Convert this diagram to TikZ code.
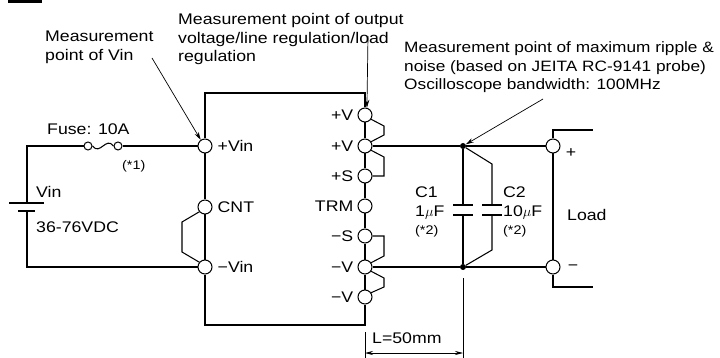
\documentclass[tikz,border=0pt]{standalone}
\usepackage{fontspec}
\setmainfont{Liberation Sans}[FakeStretch=1.15]
\usetikzlibrary{arrows.meta}

\tikzset{
  term/.style={circle,draw,fill=white,line width=1pt,inner sep=0pt,minimum size=14pt},
  fterm/.style={circle,draw,line width=1pt,inner sep=0pt,minimum size=8pt},
  jdot/.style={circle,fill,inner sep=0pt,minimum size=6pt},
  txt/.style={font=\fontsize{15.4}{18.5}\selectfont,inner sep=0pt},
  note/.style={txt,align=left,anchor=base west},
  small/.style={font=\fontsize{12.5}{13}\selectfont,inner sep=0pt},
  wire/.style={line width=1.05pt},
  callout/.style={-{Stealth[length=8pt,width=4.5pt]},line width=0.7pt}
}

\begin{document}
\begin{tikzpicture}[x=1pt,y=-1pt]
  \useasboundingbox (0,0) rectangle (720,358);
  \fill (8,0) rectangle (42,3);

  % module box terminals
  \node[term] (vinp) at (205,146) {};
  \node[term] (cnt) at (205,207) {};
  \node[term] (vinn) at (205,267) {};
  \node[term] (vo1) at (365,115) {};
  \node[term] (vo2) at (365,146) {};
  \node[term] (sp) at (365,176) {};
  \node[term] (trm) at (365,206) {};
  \node[term] (sn) at (365,236) {};
  \node[term] (von1) at (365,267) {};
  \node[term] (von2) at (365,297) {};
  \coordinate (boxtl) at (205,93);
  \coordinate (boxtr) at (365,93);
  \coordinate (boxbl) at (205,325);
  \coordinate (boxbr) at (365,325);

  \draw[wire] (vo1) -- (boxtr) -- (boxtl) -- (vinp) -- (cnt) -- (vinn) -- (boxbl) -- (boxbr) -- (von2);
  \draw[wire] (vo1) -- (vo2) -- (sp) -- (trm) -- (sn) -- (von1) -- (von2);

  % sense and CNT links
  \draw[wire] (vo1.-35) -- (384,126) -- (384,135) -- (vo2.35);
  \draw[wire] (vo2.-35) -- (384,157) -- (384,176) -- (sp.east);
  \draw[wire] (sn.east) -- (384,236) -- (384,256) -- (von1.35);
  \draw[wire] (von1.-35) -- (384,278) -- (384,287) -- (von2.35);
  \draw[wire] (cnt.-140) -- (182,222) -- (182,252) -- (vinn.140);

  \node[txt,anchor=west] at ([xshift=5pt]vinp.east) {+Vin};
  \node[txt,anchor=west] at ([xshift=5pt]cnt.east) {CNT};
  \node[txt,anchor=west] at ([xshift=5pt]vinn.east) {−Vin};
  \node[txt,anchor=east] at ([xshift=-4pt]vo1.west) {+V};
  \node[txt,anchor=east] at ([xshift=-4pt]vo2.west) {+V};
  \node[txt,anchor=east] at ([xshift=-4pt]sp.west) {+S};
  \node[txt,anchor=east] at ([xshift=-4pt]trm.west) {TRM};
  \node[txt,anchor=east] at ([xshift=-4pt]sn.west) {−S};
  \node[txt,anchor=east] at ([xshift=-4pt]von1.west) {−V};
  \node[txt,anchor=east] at ([xshift=-4pt]von2.west) {−V};

  % input side
  \node[fterm] (fa) at (88,146) {};
  \node[fterm] (fb) at (118,146) {};
  \coordinate (bt) at (27,146);
  \coordinate (bb) at (27,267);
  \coordinate (batl) at (27,203);
  \coordinate (bats) at (27,211);
  \draw[wire] (vinp) -- (fb);
  \draw[wire] (fa.east) .. controls (100,156) and (106,136) .. (fb.west);
  \draw[wire] (fa) -- (bt) -- (batl);
  \draw[wire] ([xshift=-18pt]batl) -- ([xshift=17pt]batl);
  \draw[line width=2.6pt] ([xshift=-9pt]bats) -- ([xshift=8pt]bats);
  \draw[wire] (bats) -- (bb) -- (vinn);
  \node[txt,anchor=base west] at (47,135) {Fuse: 10A};
  \node[small,anchor=base west] at (122,170) {(*1)};
  \node[txt,anchor=base west] at (36,197) {Vin};
  \node[txt,anchor=base west] at (36,233) {36-76VDC};

  % output side
  \node[jdot] (jp) at (463,146) {};
  \node[jdot] (jn) at (463,267) {};
  \node[term] (ldp) at (553,146) {};
  \node[term] (ldn) at (553,267) {};
  \draw[wire] (vo2) -- (jp) -- (ldp);
  \draw[wire] (von1) -- (jn) -- (ldn);
  \coordinate (c1a) at (463,205);
  \coordinate (c1b) at (463,215);
  \coordinate (c2a) at (492,205);
  \coordinate (c2b) at (492,215);
  \draw[wire] (jp) -- (c1a) (c1b) -- (jn);
  \draw[wire] (jp) -- (492,164) -- (c2a) (c2b) -- (492,250) -- (jn);
  \foreach \c in {c1a,c1b,c2a,c2b}
    \draw[wire] ([xshift=-10pt]\c) -- ([xshift=10pt]\c);
  \node[txt,anchor=base west] at (415,197) {C1};
  \node[txt,anchor=base west] at (415,217) {1$\mu$F};
  \node[small,anchor=base west] at (415,235) {(*2)};
  \node[txt,anchor=base west] at (503,197) {C2};
  \node[txt,anchor=base west] at (503,217) {10$\mu$F};
  \node[small,anchor=base west] at (503,235) {(*2)};

  % load
  \draw[wire] (ldp) -- (553,130) -- (593,130);
  \draw[wire] (ldp) -- (ldn);
  \draw[wire] (ldn) -- (553,287) -- (593,287);
  \node[txt] at (571,153) {+};
  \node[txt] at (573,268) {−};
  \node[txt,anchor=west] at (567,215) {Load};

  % L=50mm
  \coordinate (dimL) at (365,353);
  \coordinate (dimR) at (463,353);
  \draw[line width=0.7pt] (365,332) -- (365,358);
  \draw[line width=0.7pt] (463,278) -- (463,358);
  \draw[line width=0.7pt,{Stealth[length=8pt,width=4pt]}-{Stealth[length=8pt,width=4pt]}] (dimL) -- (dimR);
  \node[txt,anchor=base west] at (372,343) {L=50mm};

  % measurement notes (base = last line)
  \node[note,font=\fontsize{15.4}{19.5}\selectfont] (notevin) at (45,61) {Measurement\\point of Vin};
  \node[note] (noteout) at (178,62) {Measurement point of output\\voltage/line regulation/load\\regulation};
  \node[note,font=\fontsize{15}{18.5}\selectfont] (noterip) at (404,90) {Measurement point of maximum ripple \&\\noise (based on JEITA RC-9141 probe)\\Oscilloscope bandwidth: 100MHz};
  \draw[callout] (152,58) -- (vinp.125);
  \draw[callout] (368,36) -- (vo1.75);
  \draw[callout] (543,99) -- (jp);

\end{tikzpicture}
\end{document}
